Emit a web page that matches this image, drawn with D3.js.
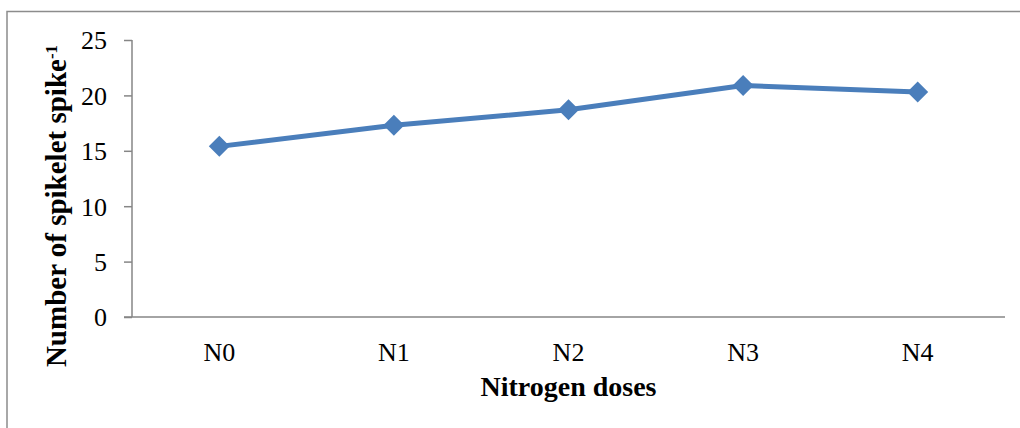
<!DOCTYPE html>
<html>
<head>
<meta charset="utf-8">
<script src="https://cdn.jsdelivr.net/npm/d3@7"></script>
<style>
  html, body { margin: 0; padding: 0; background: #fff; }
  svg { display: block; }
  text { font-family: "Liberation Serif", "Times New Roman", serif; fill: #000; }
</style>
</head>
<body>
<svg id="chart" width="1020" height="428"></svg>
<script>
// Spikelets per spike under each nitrogen dose
const doses = ["N0", "N1", "N2", "N3", "N4"];
const spikelets = [15.4, 17.3, 18.7, 20.9, 20.3];
const yTicks = [0, 5, 10, 15, 20, 25];

const svg = d3.select("#chart");
const W = 1020, H = 428;
const plot = { left: 132, right: 1005, top: 40, bottom: 317 };
const serif = "Liberation Serif, Times New Roman, serif";

// chart frame
svg.append("path")
  .attr("d", `M7,${H + 2} L7,11.5 L${W + 2},11.5`)
  .attr("fill", "none")
  .attr("stroke", "#8c8c8c")
  .attr("stroke-width", 1.5);

const x = d3.scaleBand().domain(doses).range([plot.left, plot.right]);
const y = d3.scaleLinear().domain([0, 25]).range([plot.bottom, plot.top]);

// y axis
const yAxis = svg.append("g")
  .attr("transform", `translate(${plot.left},0)`)
  .call(d3.axisLeft(y).tickValues(yTicks).tickSize(8).tickPadding(17).tickFormat(d3.format("d")));
yAxis.selectAll("line, path").attr("stroke", "#868686").attr("stroke-width", 1.5);
yAxis.select(".domain").attr("d", `M0,${plot.top}V${plot.bottom}`);
yAxis.selectAll("text")
  .attr("font-family", serif)
  .attr("font-size", 26).attr("fill", "#000").attr("dy", "0.34em");

// x axis
const xAxis = svg.append("g")
  .attr("transform", `translate(0,${plot.bottom})`)
  .call(d3.axisBottom(x).tickSize(0).tickPadding(26));
xAxis.select(".domain").attr("d", `M${plot.left - 8},0H${plot.right}`)
  .attr("stroke", "#868686").attr("stroke-width", 1.5);
xAxis.selectAll("text")
  .attr("font-family", serif)
  .attr("font-size", 26).attr("fill", "#000");

// axis titles
svg.append("text")
  .attr("x", (plot.left + plot.right) / 2)
  .attr("y", 396)
  .attr("text-anchor", "middle")
  .attr("font-size", 28)
  .attr("font-weight", "bold")
  .text("Nitrogen doses");

const yTitle = svg.append("text")
  .attr("transform", `translate(66,206) rotate(-90)`)
  .attr("text-anchor", "middle")
  .attr("font-size", 29)
  .attr("font-weight", "bold");
yTitle.append("tspan").text("Number of spikelet spike");
yTitle.append("tspan").attr("dy", "-0.55em").attr("font-size", 17).text("-1");

// series line and diamond markers
const cx = d => x(d) + x.bandwidth() / 2;
const data = doses.map((d, i) => ({ dose: d, value: spikelets[i] }));

svg.append("path")
  .datum(data)
  .attr("fill", "none")
  .attr("stroke", "#4a7ebb")
  .attr("stroke-width", 5)
  .attr("stroke-linejoin", "round")
  .attr("d", d3.line().x(d => cx(d.dose)).y(d => y(d.value)));

svg.selectAll(".marker")
  .data(data)
  .enter().append("path")
  .attr("class", "marker")
  .attr("transform", d => `translate(${cx(d.dose)},${y(d.value)})`)
  .attr("d", "M0,-10.5L10.5,0L0,10.5L-10.5,0Z")
  .attr("fill", "#4a7ebb");
</script>
</body>
</html>
